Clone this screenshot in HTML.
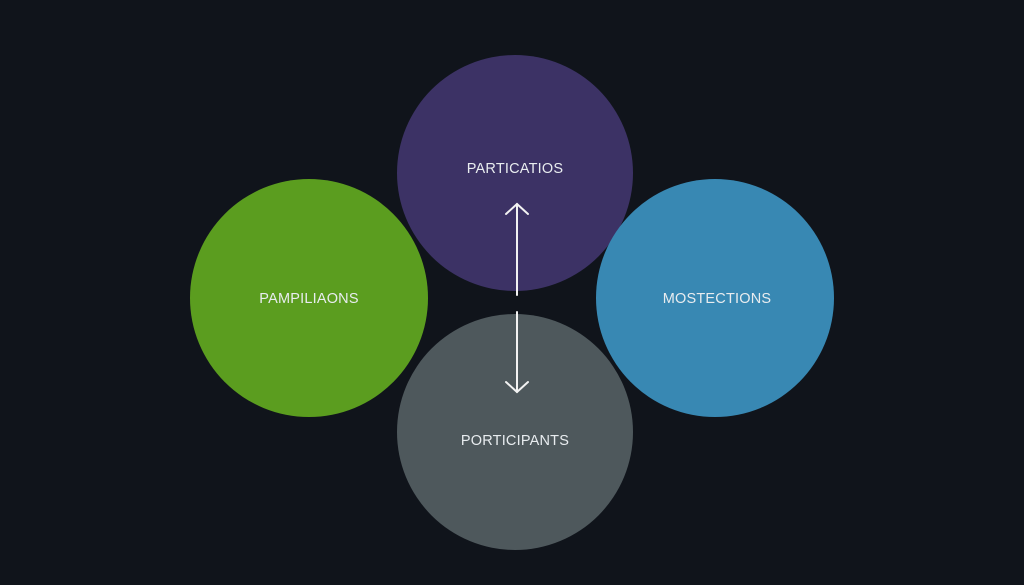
<!DOCTYPE html>
<html><head><style>
html,body{margin:0;padding:0;background:#10141b;}
svg{display:block}
text{font-family:"Liberation Sans",sans-serif;font-size:14.5px;fill:#e8ecef;text-anchor:middle;letter-spacing:0.2px}
</style></head><body>
<svg width="1024" height="585" viewBox="0 0 1024 585">
<rect width="1024" height="585" fill="#10141b"/>
<circle cx="515" cy="173" r="118" fill="#3c3265"/>
<circle cx="309" cy="298" r="119" fill="#5b9d1f"/>
<circle cx="715" cy="298" r="119" fill="#3888b3"/>
<circle cx="515" cy="432" r="118" fill="#4e585c"/>
<text x="515" y="173">PARTICATIOS</text>
<text x="309" y="303">PAMPILIAONS</text>
<text x="717" y="303">MOSTECTIONS</text>
<text x="515" y="445">PORTICIPANTS</text>
<g stroke="#f2f2f2" stroke-width="2" fill="none" stroke-linecap="round">
<line x1="517" y1="204" x2="517" y2="295"/>
<polyline points="506,214 517,204 528,214"/>
<line x1="517" y1="312" x2="517" y2="392"/>
<polyline points="506,382 517,392 528,382"/>
</g>
</svg>
</body></html>
